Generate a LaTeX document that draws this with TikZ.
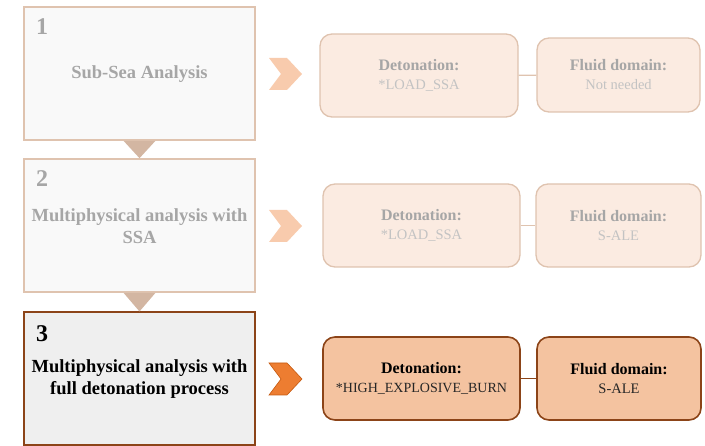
\documentclass[tikz,border=0pt]{standalone}
\usepackage{fontspec}
\setmainfont{Liberation Serif}
\usetikzlibrary{calc}
\definecolor{fadeborder}{HTML}{DFC3AF}
\definecolor{fadefill}{HTML}{F9F9F9}
\definecolor{darkborder}{HTML}{8C4418}
\definecolor{activefill}{HTML}{EFEFEF}
\definecolor{tricol}{HTML}{D3B6A2}
\definecolor{chevlight}{HTML}{F8CBAD}
\definecolor{chevdark}{HTML}{ED7D31}
\definecolor{chevdarkline}{HTML}{C55A11}
\definecolor{peachfade}{HTML}{FBEBE1}
\definecolor{peachact}{HTML}{F4C3A0}
\definecolor{txtfade}{HTML}{A6A6A6}
\definecolor{txtfadelight}{HTML}{C3C3C3}
\newcommand{\headtxt}[1]{{\bfseries\fontsize{16}{19}\selectfont #1}}
\begin{document}
\begin{tikzpicture}[x=1pt,y=-1pt,
  stagebox/.style={rectangle, minimum width=231pt, minimum height=133pt, inner sep=0pt},
  fadestage/.style={stagebox, draw=fadeborder, line width=1.6pt, fill=fadefill},
  actstage/.style={stagebox, draw=darkborder, line width=2pt, fill=activefill},
  numtxt/.style={anchor=west, font=\bfseries\fontsize{24}{26}\selectfont, inner sep=0pt},
  titletxt/.style={align=center, font=\bfseries\fontsize{18.5}{22}\selectfont, inner sep=0pt},
  infobox/.style={rectangle, rounded corners=12pt, inner sep=0pt, align=center, font=\fontsize{14.5}{19}\selectfont},
  fadeinfo/.style={infobox, draw=fadeborder, line width=1.3pt, fill=peachfade},
  actinfo/.style={infobox, draw=darkborder, line width=1.6pt, fill=peachact},
  tri/.style={fill=tricol},
  chevf/.style={fill=chevlight},
  chevd/.style={fill=chevdark, draw=chevdarkline, line width=0.6pt},
]
\useasboundingbox (0,0) rectangle (705,446);

% stage boxes
\node[fadestage] (box1) at (139.5,73.5) {};
\node[fadestage] (box2) at (139.5,225.5) {};
\node[actstage]  (box3) at (139.5,379) {};

% triangles between stages
\fill[tri] ($(box1.south)+(-16,0)$) -- ($(box1.south)+(16,0)$) -- (box2.north) -- cycle;
\fill[tri] ($(box2.south)+(-16,0)$) -- ($(box2.south)+(16,0)$) -- (box3.north) -- cycle;

% numbers
\node[numtxt, text=txtfade] (n1) at (36,27) {1};
\node[numtxt, text=txtfade] (n2) at (36,179) {2};
\node[numtxt, text=black]   (n3) at (36,334) {3};

% titles
\node[titletxt, text=txtfade] (t1) at (139.5,74) {Sub-Sea Analysis};
\node[titletxt, text=txtfade] (t2) at (139.5,226) {Multiphysical analysis with\\SSA};
\node[titletxt, text=black]   (t3) at (139.5,379) {Multiphysical analysis with\\full detonation process};

% chevrons
\fill[chevf] (269,58) -- (287,58) -- (302,74) -- (287,90) -- (269,90) -- (281,74) -- cycle;
\fill[chevf] (269,210) -- (287,210) -- (302,226) -- (287,242) -- (269,242) -- (281,226) -- cycle;
\filldraw[chevd] (269,363) -- (287,363) -- (302,379) -- (287,395) -- (269,395) -- (281,379) -- cycle;

% info boxes row 1
\node[fadeinfo, minimum width=198pt, minimum height=83pt] (det1) at (419,75.5)
  {\textcolor{txtfade}{\headtxt{Detonation:}}\\
   \textcolor{txtfadelight}{*LOAD\_SSA}};
\node[fadeinfo, minimum width=163pt, minimum height=74pt] (fl1) at (618.5,75)
  {\textcolor{txtfade}{\headtxt{Fluid domain:}}\\
   \textcolor{txtfadelight}{Not needed}};
\draw[fadeborder, line width=1.3pt] (det1) -- (fl1);

% row 2
\node[fadeinfo, minimum width=197pt, minimum height=83pt] (det2) at (421.5,225.5)
  {\textcolor{txtfade}{\headtxt{Detonation:}}\\
   \textcolor{txtfadelight}{*LOAD\_SSA}};
\node[fadeinfo, minimum width=165pt, minimum height=83pt] (fl2) at (618.5,225.5)
  {\textcolor{txtfade}{\headtxt{Fluid domain:}}\\
   \textcolor{txtfadelight}{S-ALE}};
\draw[fadeborder, line width=1.3pt] (det2) -- (fl2);

% row 3
\node[actinfo, minimum width=197pt, minimum height=83pt] (det3) at (421.5,378.5)
  {\textcolor{black}{\headtxt{Detonation:}}\\
   \textcolor{black!85}{\fontsize{14}{19}\selectfont *HIGH\_EXPLOSIVE\_BURN}};
\node[actinfo, minimum width=164pt, minimum height=83pt] (fl3) at (619,378.5)
  {\textcolor{black}{\headtxt{Fluid domain:}}\\
   \textcolor{black!85}{S-ALE}};
\draw[darkborder, line width=1.6pt] (det3) -- (fl3);
\end{tikzpicture}
\end{document}
